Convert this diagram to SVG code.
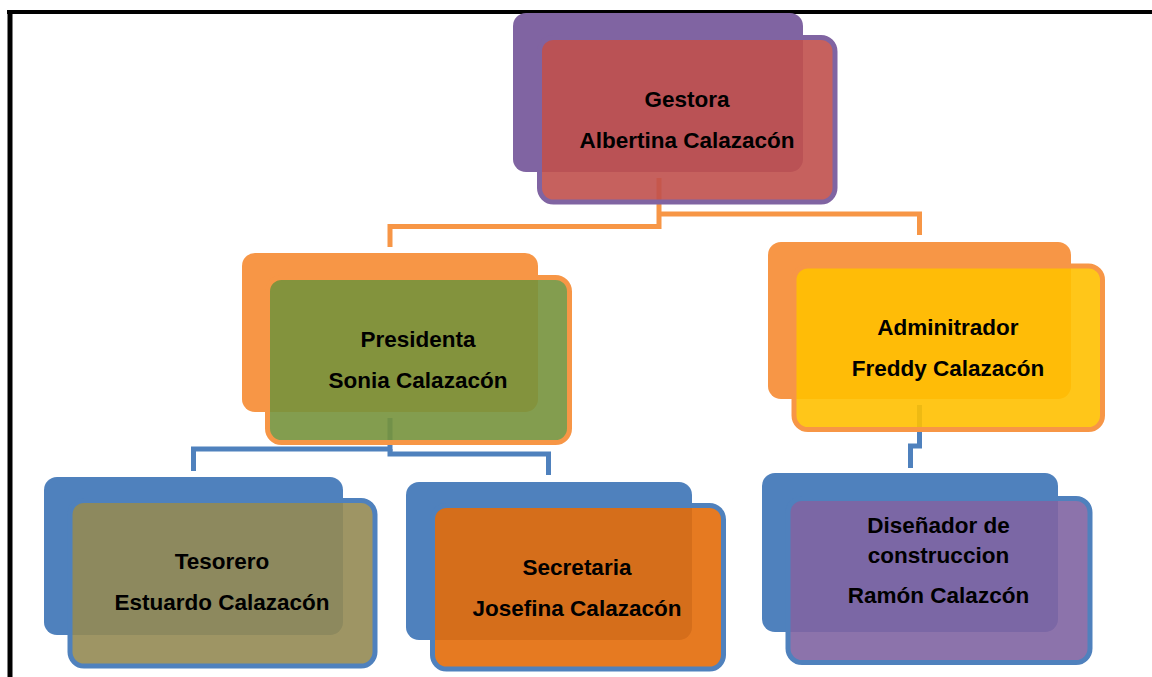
<svg xmlns="http://www.w3.org/2000/svg" width="1152" height="677" viewBox="0 0 1152 677">
<style>
.t{font-family:"Liberation Sans",Arial,sans-serif;font-weight:bold;font-size:22.5px;fill:#000;text-anchor:middle}
.c{fill:none;stroke-width:5;stroke-linejoin:miter;stroke-linecap:butt}
.co{stroke:#F79646}
.cb{stroke:#4F81BD}
.f{stroke-width:5;fill-opacity:0.9}
</style>
<rect width="1152" height="677" fill="#fff"/>
<g id="frame">
<line x1="7" y1="12" x2="1152" y2="12" stroke="#000" stroke-width="4"/>
<line x1="10" y1="10" x2="10" y2="677" stroke="#000" stroke-width="5"/>
</g>
<g id="connectors">
<path class="c co" d="M659,178 V226.5 H390 V247"/>
<path class="c co" d="M659,214 H919.5 V235"/>
<path class="c cb" d="M390,418 V449 H193.5 V471"/>
<path class="c cb" d="M390,449 V454 H548.5 V475"/>
<path class="c cb" d="M919.5,405 V446 H910.5 V468"/>
</g>
<g id="gestora">
<rect x="513" y="13" width="290" height="159" rx="13" fill="#8064A2"/>
<rect class="f" x="539.5" y="37.5" width="295.5" height="164.5" rx="14" fill="#C0504D" stroke="#8064A2"/>
<text class="t" x="687" y="107">Gestora</text>
<text class="t" x="687" y="148">Albertina Calazacón</text>
</g>
<g id="presidenta">
<rect x="242" y="253" width="296" height="159" rx="13" fill="#F79646"/>
<rect class="f" x="267.5" y="277.5" width="302" height="165" rx="14" fill="#76923C" stroke="#F79646"/>
<text class="t" x="418" y="347">Presidenta</text>
<text class="t" x="418" y="388">Sonia Calazacón</text>
</g>
<g id="administrador">
<rect x="768" y="242" width="303" height="157" rx="13" fill="#F79646"/>
<rect class="f" x="794" y="266" width="308.5" height="163.5" rx="14" fill="#FFC000" stroke="#F79646"/>
<text class="t" x="948" y="335">Adminitrador</text>
<text class="t" x="948" y="376">Freddy Calazacón</text>
</g>
<g id="tesorero">
<rect x="44" y="477" width="299" height="158" rx="13" fill="#4F81BD"/>
<rect class="f" x="70" y="500.5" width="305" height="165.5" rx="14" fill="#938953" stroke="#4F81BD"/>
<text class="t" x="222" y="569">Tesorero</text>
<text class="t" x="222" y="610">Estuardo Calazacón</text>
</g>
<g id="secretaria">
<rect x="406" y="482" width="286" height="158" rx="13" fill="#4F81BD"/>
<rect class="f" x="432.5" y="505.5" width="291" height="163.5" rx="14" fill="#E36C09" stroke="#4F81BD"/>
<text class="t" x="577" y="575">Secretaria</text>
<text class="t" x="577" y="616">Josefina Calazacón</text>
</g>
<g id="disenador">
<rect x="762" y="473" width="296" height="159" rx="13" fill="#4F81BD"/>
<rect class="f" x="788" y="498.5" width="302" height="164" rx="14" fill="#8064A2" stroke="#4F81BD"/>
<text class="t" x="938.5" y="533">Diseñador de</text>
<text class="t" x="938.5" y="563">construccion</text>
<text class="t" x="938.5" y="603">Ramón Calazcón</text>
</g>
</svg>
